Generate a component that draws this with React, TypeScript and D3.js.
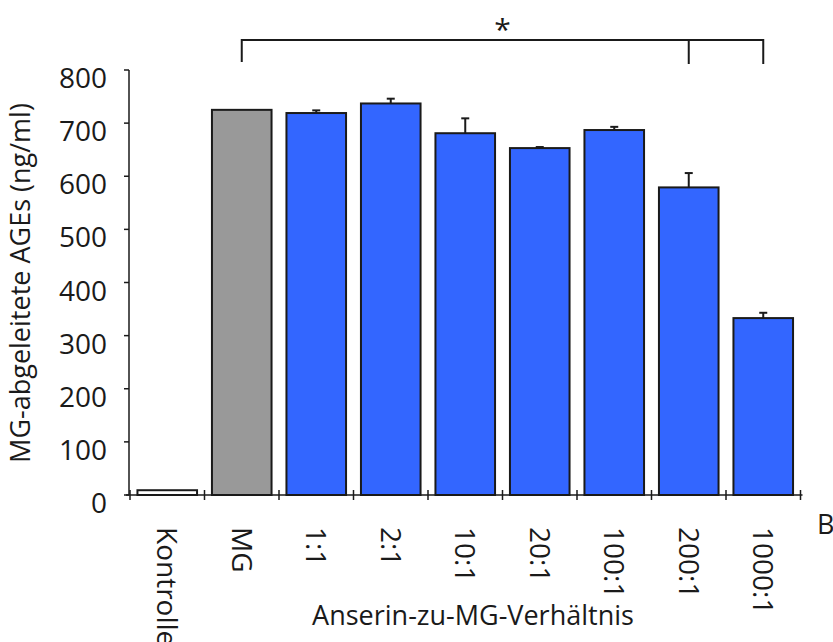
import React, { useEffect, useRef } from "react";
import * as d3 from "d3";

// Groups along the x axis and their measured AGE concentrations (ng/ml)
const categories = ["Kontrolle", "MG", "1:1", "2:1", "10:1", "20:1", "100:1", "200:1", "1000:1"];
const values = [9, 725, 719, 737, 681, 653, 687, 579, 333];
const errors = [0, 0, 5, 9, 28, 2, 6, 27, 10];
const fills = ["#ffffff", "#999999", "#3366ff", "#3366ff", "#3366ff", "#3366ff", "#3366ff", "#3366ff", "#3366ff"];
const yTicks = [0, 100, 200, 300, 400, 500, 600, 700, 800];

const W = 833;
const H = 642;
const FONT = "'Open Sans', 'Noto Sans', sans-serif";
const INK = "#1a1a1a";

export default function App() {
  const ref = useRef<SVGSVGElement | null>(null);

  useEffect(() => {
    const svg = d3.select(ref.current);
    svg.selectAll("*").remove();

    const x0 = 130;
    const x1 = 800.5;
    const yBottom = 495;
    const yTop = 70;

    const x = d3.scaleBand<string>().domain(categories).range([x0, x1]).paddingInner(0.2).paddingOuter(0.1);
    const y = d3.scaleLinear().domain([0, 800]).range([yBottom, yTop]);
    const step = x.step();
    const bw = x.bandwidth();
    const center = (c: string) => (x(c) as number) + bw / 2;

    const g = svg.append("g");

    // bars
    g.selectAll("rect.bar")
      .data(categories)
      .join("rect")
      .attr("class", "bar")
      .attr("x", (c) => center(c) - bw / 2)
      .attr("y", (_, i) => y(values[i]))
      .attr("width", bw)
      .attr("height", (_, i) => yBottom - y(values[i]))
      .attr("fill", (_, i) => fills[i])
      .attr("stroke", INK)
      .attr("stroke-width", 2);

    // upper error bars
    const eb = g.selectAll("g.err")
      .data(categories.map((c, i) => ({ c, v: values[i], e: errors[i] })).filter((d) => d.e > 0))
      .join("g")
      .attr("class", "err");
    eb.append("line")
      .attr("x1", (d) => center(d.c))
      .attr("x2", (d) => center(d.c))
      .attr("y1", (d) => y(d.v))
      .attr("y2", (d) => y(d.v + d.e))
      .attr("stroke", INK)
      .attr("stroke-width", 2);
    eb.append("line")
      .attr("x1", (d) => center(d.c) - 4)
      .attr("x2", (d) => center(d.c) + 4)
      .attr("y1", (d) => y(d.v + d.e))
      .attr("y2", (d) => y(d.v + d.e))
      .attr("stroke", INK)
      .attr("stroke-width", 2);

    // y axis
    const yAxisX = 129;
    g.append("line")
      .attr("x1", yAxisX).attr("x2", yAxisX)
      .attr("y1", y(800)).attr("y2", yBottom)
      .attr("stroke", INK).attr("stroke-width", 1.5);
    g.selectAll("line.ytick")
      .data(yTicks)
      .join("line")
      .attr("class", "ytick")
      .attr("x1", yAxisX - 5).attr("x2", yAxisX)
      .attr("y1", (d) => y(d)).attr("y2", (d) => y(d))
      .attr("stroke", INK).attr("stroke-width", 1.5);
    g.selectAll("text.ylab")
      .data(yTicks)
      .join("text")
      .attr("class", "ylab")
      .attr("x", 107)
      .attr("y", (d) => y(d) + 18)
      .attr("text-anchor", "end")
      .attr("font-family", FONT)
      .attr("font-size", 28)
      .attr("fill", INK)
      .text((d) => String(d));

    // x axis
    g.append("line")
      .attr("x1", 126).attr("x2", x1 + 2)
      .attr("y1", yBottom).attr("y2", yBottom)
      .attr("stroke", INK).attr("stroke-width", 1.5);
    const bounds = d3.range(categories.length + 1).map((i) => x0 + i * step);
    g.selectAll("line.xtick")
      .data(bounds)
      .join("line")
      .attr("class", "xtick")
      .attr("x1", (d) => d).attr("x2", (d) => d)
      .attr("y1", yBottom - 5).attr("y2", yBottom + 5)
      .attr("stroke", INK).attr("stroke-width", 1.5);
    g.selectAll("text.xlab")
      .data(categories)
      .join("text")
      .attr("class", "xlab")
      .attr("transform", (c) => `translate(${center(c) + 1},527) rotate(90)`)
      .attr("dominant-baseline", "central")
      .attr("font-family", FONT)
      .attr("font-size", 28)
      .attr("fill", INK)
      .text((c) => c);

    // axis titles
    g.append("text")
      .attr("transform", `translate(30,283) rotate(-90)`)
      .attr("text-anchor", "middle")
      .attr("font-family", FONT)
      .attr("font-size", 27)
      .attr("fill", INK)
      .text("MG-abgeleitete AGEs (ng/ml)");
    g.append("text")
      .attr("x", 473).attr("y", 625)
      .attr("text-anchor", "middle")
      .attr("font-family", FONT)
      .attr("font-size", 27)
      .attr("fill", INK)
      .text("Anserin-zu-MG-Verhältnis");
    g.append("text")
      .attr("x", 817).attr("y", 534)
      .attr("font-family", FONT)
      .attr("font-size", 27)
      .attr("fill", INK)
      .text("B");

    // significance bracket
    const bTop = 40;
    const bx0 = center("MG");
    const bx1 = center("200:1");
    const bx2 = center("1000:1");
    const bracket = d3.path();
    bracket.moveTo(bx0, 62);
    bracket.lineTo(bx0, bTop);
    bracket.lineTo(bx2, bTop);
    bracket.lineTo(bx2, 64);
    bracket.moveTo(bx1, bTop);
    bracket.lineTo(bx1, 64);
    g.append("path")
      .attr("d", bracket.toString())
      .attr("fill", "none")
      .attr("stroke", INK)
      .attr("stroke-width", 2);
    g.append("text")
      .attr("x", (bx0 + bx2) / 2)
      .attr("y", 40)
      .attr("text-anchor", "middle")
      .attr("font-family", FONT)
      .attr("font-size", 30)
      .attr("fill", INK)
      .text("*");
  }, []);

  return (
    <svg
      ref={ref}
      width={W}
      height={H}
      style={{ position: "absolute", left: 0, top: 0, background: "#ffffff", display: "block" }}
    />
  );
}
